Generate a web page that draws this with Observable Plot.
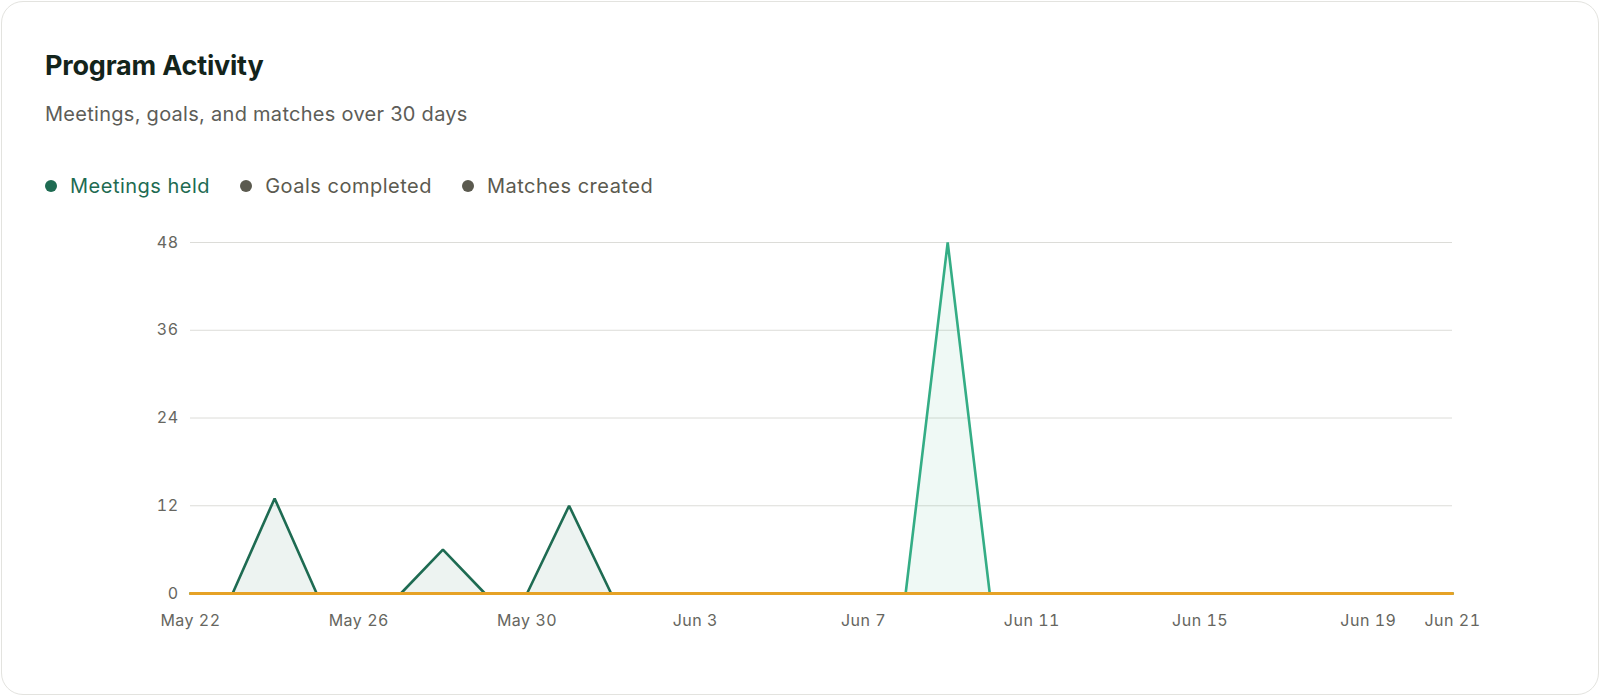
<!DOCTYPE html>
<html>
<head>
<meta charset="utf-8">
<script src="https://cdn.jsdelivr.net/npm/d3@7"></script>
<script src="https://cdn.jsdelivr.net/npm/@observablehq/plot@0.6"></script>
<style>
  html, body { margin: 0; padding: 0; background: #ffffff; }
  body { width: 1600px; height: 696px; position: relative; overflow: hidden; font-family: Inter, "Noto Sans", sans-serif; }
  .card { position: absolute; left: 1px; top: 1px; width: 1598px; height: 694px; box-sizing: border-box;
          border: 1.5px solid #e3e3df; border-radius: 22px; background: #fff; }
  .title { position: absolute; left: 45px; top: 50px; font-size: 27px; font-weight: 700; color: #13241b; letter-spacing: -0.2px; line-height: 32px; }
  .subtitle { position: absolute; left: 45px; top: 101px; font-size: 20px; letter-spacing: 0.28px; color: #5d5d58; line-height: 26px; }
  .legend { position: absolute; left: 45px; top: 173px; display: flex; align-items: center; font-size: 20px; letter-spacing: 0.5px; line-height: 26px; }
  .legend .item { display: flex; align-items: center; margin-right: 30px; }
  .legend .dot { width: 12px; height: 12px; border-radius: 50%; margin-right: 13px; }
  #chart { position: absolute; left: 0; top: 220px; }
</style>
</head>
<body>
<div class="card"></div>
<div class="title">Program Activity</div>
<div class="subtitle">Meetings, goals, and matches over 30 days</div>
<div class="legend" id="legend"></div>
<div id="chart"></div>
<script>
const dates = [
  "2025-05-22","2025-05-23","2025-05-24","2025-05-25","2025-05-26","2025-05-27","2025-05-28","2025-05-29",
  "2025-05-30","2025-05-31","2025-06-01","2025-06-02","2025-06-03","2025-06-04","2025-06-05","2025-06-06",
  "2025-06-07","2025-06-08","2025-06-09","2025-06-10","2025-06-11","2025-06-12","2025-06-13","2025-06-14",
  "2025-06-15","2025-06-16","2025-06-17","2025-06-18","2025-06-19","2025-06-20","2025-06-21"
];
const meetingsHeld   = [0,0,13,0,0,0,6,0,0,12,0,0,0,0,0,0,0,0,0,0,0,0,0,0,0,0,0,0,0,0,0];
const goalsCompleted = [0,0,0,0,0,0,0,0,0,0,0,0,0,0,0,0,0,0,48,0,0,0,0,0,0,0,0,0,0,0,0];
const matchesCreated = [0,0,0,0,0,0,0,0,0,0,0,0,0,0,0,0,0,0,0,0,0,0,0,0,0,0,0,0,0,0,0];
const xTickLabels = ["2025-05-22","2025-05-26","2025-05-30","2025-06-03","2025-06-07","2025-06-11","2025-06-15","2025-06-19","2025-06-21"];
const yTicks = [0, 12, 24, 36, 48];
const seriesNames = ["Meetings held", "Goals completed", "Matches created"];
const seriesColors = ["#1e6b52", "#34ad85", "#e6a226"];
const legendDotColors = ["#1e6b52", "#5b5a4f", "#5b5a4f"];
const legendTextColors = ["#1e6b52", "#5b5a4f", "#5b5a4f"];

const parse = d3.utcParse("%Y-%m-%d");
const rows = dates.map((d, i) => ({
  date: parse(d),
  meetings: meetingsHeld[i],
  goals: goalsCompleted[i],
  matches: matchesCreated[i]
}));

// legend
const legend = document.getElementById("legend");
seriesNames.forEach((name, i) => {
  const item = document.createElement("div");
  item.className = "item";
  const dot = document.createElement("span");
  dot.className = "dot";
  dot.style.background = legendDotColors[i];
  const label = document.createElement("span");
  label.textContent = name;
  label.style.color = legendTextColors[i];
  item.appendChild(dot);
  item.appendChild(label);
  legend.appendChild(item);
});

const fmt = d3.utcFormat("%b %-d");
const chart = Plot.plot({
  width: 1600,
  height: 440,
  marginLeft: 190,
  marginRight: 148,
  marginTop: 22,
  marginBottom: 67,
  style: { fontFamily: "Inter, 'Noto Sans', sans-serif", fontSize: "16px", letterSpacing: "0.5px", color: "#666660", background: "transparent" },
  x: { type: "utc", domain: [parse(dates[0]), parse(dates[dates.length - 1])] },
  y: { domain: [0, 48] },
  marks: [
    Plot.gridY(yTicks, { stroke: "#dcdcd8", strokeOpacity: 1, strokeWidth: 1 }),
    Plot.axisY(yTicks, { tickSize: 0, tickPadding: 12, fill: "#666660", fontSize: 16, label: null }),
    Plot.axisX(xTickLabels.map(parse), { tickSize: 0, tickPadding: 21, tickFormat: fmt, fill: "#666660", fontSize: 16, label: null }),
    Plot.areaY(rows, { x: "date", y: "meetings", fill: seriesColors[0], fillOpacity: 0.08 }),
    Plot.areaY(rows, { x: "date", y: "goals", fill: seriesColors[1], fillOpacity: 0.08 }),
    Plot.lineY(rows, { x: "date", y: "meetings", stroke: seriesColors[0], strokeWidth: 2.6, strokeLinejoin: "miter" }),
    Plot.lineY(rows, { x: "date", y: "goals", stroke: seriesColors[1], strokeWidth: 2.6, strokeLinejoin: "miter" }),
    Plot.lineY(rows, { x: "date", y: "matches", stroke: seriesColors[2], strokeWidth: 3, strokeLinecap: "round" })
  ]
});
document.getElementById("chart").appendChild(chart);
</script>
</body>
</html>
